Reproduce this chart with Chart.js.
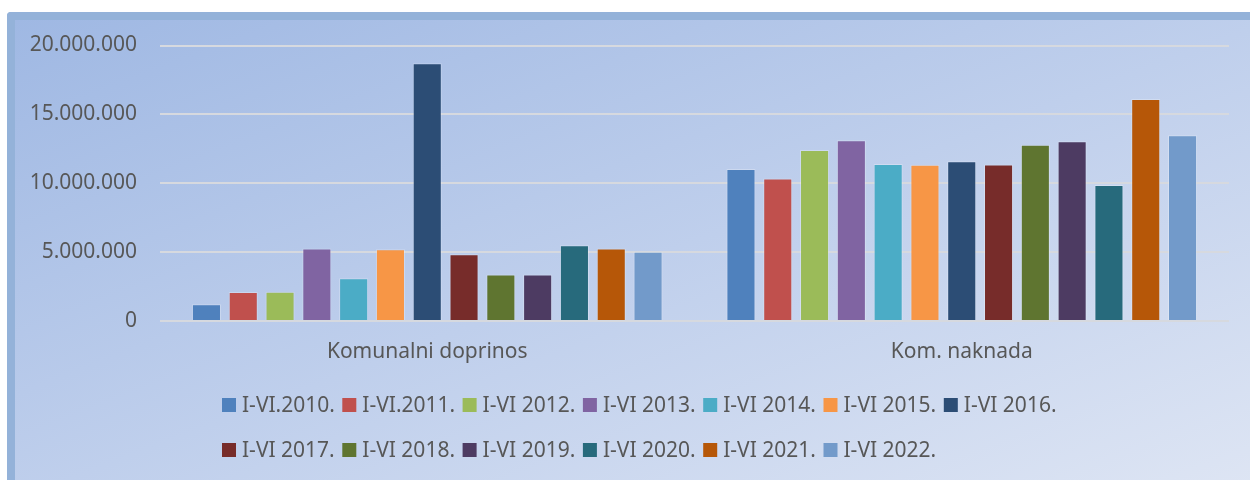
<!DOCTYPE html>
<html>
<head>
<meta charset="utf-8">
<script src="https://cdn.jsdelivr.net/npm/chart.js@4/dist/chart.umd.min.js"></script>
<style>
  html, body { margin: 0; padding: 0; background: #fff; }
  .wrap { position: relative; width: 1250px; height: 480px; overflow: hidden; }
  .frame {
    position: absolute; left: 7px; top: 12px; width: 1260px; height: 480px;
    border-top: 8px solid #94b2d9; border-left: 8px solid #94b2d9;
    border-top-left-radius: 4px;
    background: linear-gradient(to bottom right, #9fb8e3 0%, #bfcfec 50%, #dfe6f4 100%);
  }
  canvas { position: absolute; left: 0; top: 0; }
</style>
</head>
<body>
<div class="wrap">
  <div class="frame"></div>
  <canvas id="chart" width="1250" height="480"></canvas>
</div>
<script>
  // kategorije i serije (vrijednosti očitane sa slike)
  const categories = ['Komunalni doprinos', 'Kom. naknada'];
  const seriesLabels = [
    'I-VI.2010.', 'I-VI.2011.', 'I-VI 2012.', 'I-VI 2013.', 'I-VI 2014.', 'I-VI 2015.', 'I-VI 2016.',
    'I-VI 2017.', 'I-VI 2018.', 'I-VI 2019.', 'I-VI 2020.', 'I-VI 2021.', 'I-VI 2022.'
  ];
  const komunalniDoprinos = [1210000, 2110000, 2120000, 5260000, 3100000, 5210000, 18720000,
    4850000, 3370000, 3370000, 5500000, 5260000, 5020000];
  const komNaknada = [11030000, 10350000, 12410000, 13120000, 11390000, 11350000, 11590000,
    11370000, 12800000, 13040000, 9870000, 16120000, 13480000];
  const yTicks = [0, 5000000, 10000000, 15000000, 20000000];

  const COLORS = ['#4f81bd', '#c0504d', '#9bbb59', '#8064a2', '#4bacc6', '#f79646', '#2c4d75',
    '#772c2a', '#5f7530', '#4d3b62', '#276a7c', '#b65708', '#729aca'];

  const FONT = "'Noto Sans', sans-serif";
  const TEXT = '#575757';

  const fmt = (v) => String(v).replace(/\B(?=(\d{3})+(?!\d))/g, '.');

  // legenda u mreži od 7 stupaca (kao u Excelu)
  const gridLegend = {
    id: 'gridLegend',
    afterDraw(chart) {
      const ctx = chart.ctx;
      const perRow = 7, colW = 120.3, x0 = 222, rows = [405, 450], box = 14;
      ctx.save();
      ctx.font = "21px " + FONT;
      ctx.textBaseline = 'middle';
      chart.data.datasets.forEach((ds, i) => {
        const x = x0 + (i % perRow) * colW;
        const y = rows[Math.floor(i / perRow)];
        ctx.fillStyle = ds.backgroundColor;
        ctx.fillRect(x, y - box / 2, box, box);
        ctx.fillStyle = TEXT;
        ctx.fillText(ds.label, x + box + 6, y + 1);
      });
      ctx.restore();
    }
  };

  const datasets = seriesLabels.map((label, i) => ({
    label,
    data: [komunalniDoprinos[i], komNaknada[i]],
    backgroundColor: COLORS[i],
    borderColor: 'rgba(255,255,255,0.25)',
    borderWidth: 1,
    barPercentage: 0.79,
    categoryPercentage: 0.895
  }));

  new Chart(document.getElementById('chart').getContext('2d'), {
    type: 'bar',
    data: { labels: categories, datasets },
    plugins: [gridLegend],
    options: {
      responsive: false,
      animation: false,
      layout: { padding: { top: 45.5, right: 21, bottom: 79, left: 0 } },
      plugins: {
        legend: { display: false },
        tooltip: { enabled: false }
      },
      scales: {
        y: {
          min: 0,
          max: 20000000,
          afterFit: (s) => { s.width = 160; },
          afterBuildTicks: (s) => { s.ticks = yTicks.map(v => ({ value: v })); },
          ticks: {
            font: { family: FONT, size: 21 },
            color: TEXT,
            padding: 23,
            callback: (v) => fmt(v)
          },
          grid: { color: '#d6d9df', lineWidth: 2, drawTicks: false },
          border: { display: false }
        },
        x: {
          afterFit: (s) => { s.height = 80; },
          ticks: {
            font: { family: FONT, size: 21 },
            color: TEXT,
            padding: 18
          },
          grid: { display: false, drawTicks: false },
          border: { display: false }
        }
      }
    }
  });
</script>
</body>
</html>
